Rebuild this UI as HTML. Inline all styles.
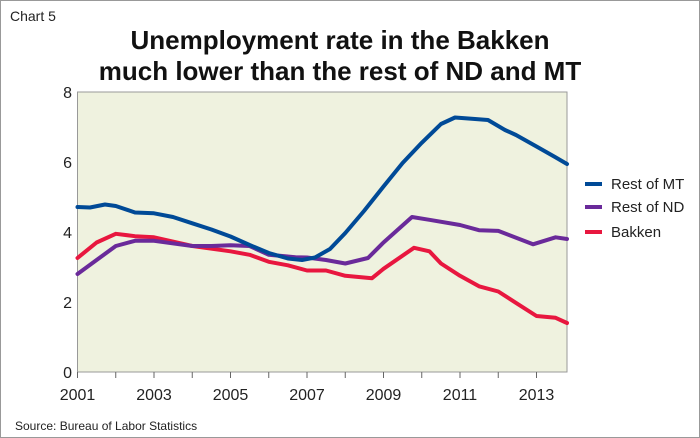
<!DOCTYPE html>
<html><head><style>
html,body{margin:0;padding:0;background:#fff}
svg{display:block}
text{font-family:"Liberation Sans",sans-serif}
</style></head><body>
<svg width="700" height="438" viewBox="0 0 700 438" xmlns="http://www.w3.org/2000/svg">
<rect x="0.5" y="0.5" width="699" height="437" fill="#fff" stroke="#999"/>
<text x="10" y="21" font-size="14" fill="#222">Chart 5</text>
<text x="340" y="49" font-size="26" font-weight="bold" text-anchor="middle" fill="#111">Unemployment rate in the Bakken</text>
<text x="340" y="80" font-size="26" font-weight="bold" text-anchor="middle" fill="#111">much lower than the rest of ND and MT</text>
<rect x="77.5" y="92" width="489.5" height="280" fill="#eff2df" stroke="#999"/>
<g font-size="16" fill="#222" text-anchor="end">
<text x="72" y="98">8</text><text x="72" y="168">6</text><text x="72" y="238">4</text><text x="72" y="308">2</text><text x="72" y="378">0</text>
</g>
<g stroke="#666" stroke-width="1">
<line x1="77.5" y1="372" x2="77.5" y2="378"/><line x1="115.75" y1="372" x2="115.75" y2="378"/><line x1="154" y1="372" x2="154" y2="378"/><line x1="192.25" y1="372" x2="192.25" y2="378"/><line x1="230.5" y1="372" x2="230.5" y2="378"/><line x1="268.75" y1="372" x2="268.75" y2="378"/><line x1="307" y1="372" x2="307" y2="378"/><line x1="345.25" y1="372" x2="345.25" y2="378"/><line x1="383.5" y1="372" x2="383.5" y2="378"/><line x1="421.75" y1="372" x2="421.75" y2="378"/><line x1="460" y1="372" x2="460" y2="378"/><line x1="498.25" y1="372" x2="498.25" y2="378"/><line x1="536.5" y1="372" x2="536.5" y2="378"/>
</g>
<g font-size="16" fill="#222" text-anchor="middle">
<text x="77.5" y="400">2001</text><text x="154" y="400">2003</text><text x="230.5" y="400">2005</text><text x="307" y="400">2007</text><text x="383.5" y="400">2009</text><text x="460" y="400">2011</text><text x="536.5" y="400">2013</text>
</g>
<g fill="none" stroke-width="4" stroke-linejoin="round" stroke-linecap="round">
<polyline stroke="#e8173f" points="77.5,258 96.6,242.5 115.8,233.8 135,236.2 154,237.3 192.3,246 230.5,251.3 249.6,254.8 268.8,261.8 287.9,265.3 307,270.5 326,270.5 345.3,275.8 372,278.2 383.5,268.8 414,247.8 429.4,251.3 441,263.5 460,275.8 479,286.3 498.3,291.5 517.4,303.8 536.5,316 555.6,317.8 567,323"/>
<polyline stroke="#6a2a9a" points="77.5,274 96.6,260 115.8,246 135,240.8 154,240.8 192.3,246 211.4,246 230.5,245.3 249.6,246 268.8,254.8 295.5,257.2 307,257.5 326,260 345.3,263.5 368,258 383.5,242.5 412,217 429.4,219.8 460,225 479,230.2 498.3,230.9 533,244.3 555.6,237.3 567,239"/>
<polyline stroke="#004a97" points="77.5,207 90,207.5 105,204.5 115.8,206 135,212.5 154,213.3 173,217 192.3,223.3 211.4,229.5 230.5,236.5 249.6,245 268.8,253 287.9,258.5 302,260 315,257.5 330,249 345.3,233 364,211 383.5,186.5 402.6,163 421.75,142.8 441,124 455,117.5 475,119 488,120 505,130 516,135 536.5,146.5 555,157 567,164"/>
</g>
<g stroke-width="4">
<line x1="585" y1="184" x2="602" y2="184" stroke="#004a97"/>
<line x1="585" y1="207" x2="602" y2="207" stroke="#6a2a9a"/>
<line x1="585" y1="232" x2="602" y2="232" stroke="#e8173f"/>
</g>
<g font-size="15" fill="#222">
<text x="611" y="189">Rest of MT</text><text x="611" y="212">Rest of ND</text><text x="611" y="237">Bakken</text>
</g>
<text x="15" y="430" font-size="12" fill="#222">Source: Bureau of Labor Statistics</text>
</svg>
</body></html>
